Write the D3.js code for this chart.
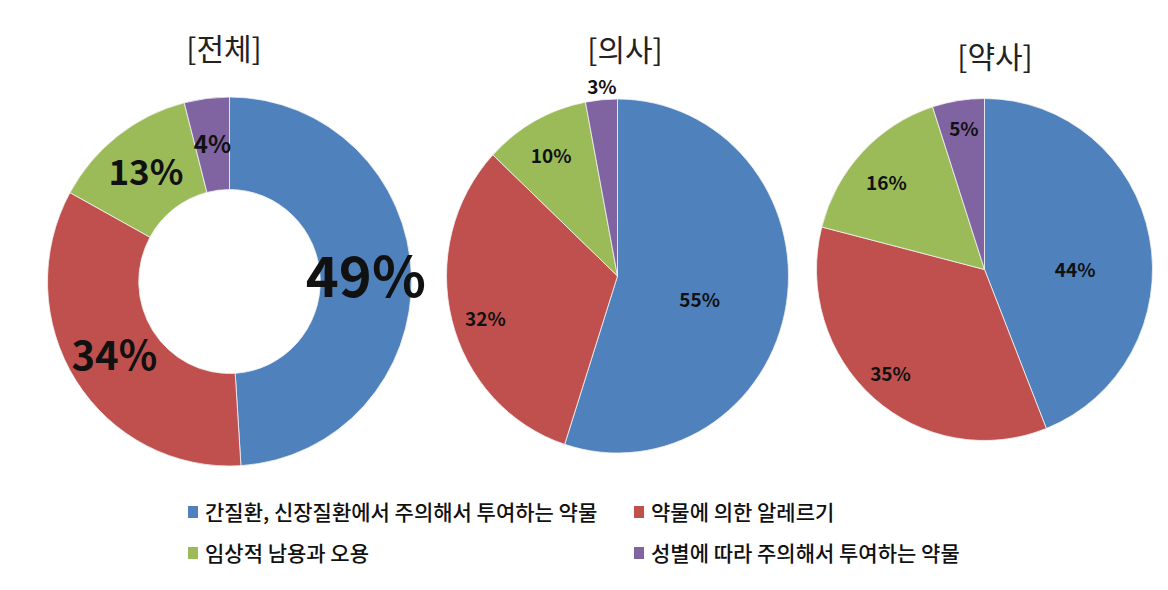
<!DOCTYPE html>
<html>
<head>
<meta charset="utf-8">
<script src="https://cdn.jsdelivr.net/npm/d3@7/dist/d3.min.js"></script>
<style>
  html, body { margin: 0; padding: 0; background: #fff; }
  svg { display: block; font-family: "Noto Sans CJK KR", "Noto Sans", sans-serif; }
</style>
</head>
<body>
<svg id="chart" width="1168" height="590"></svg>
<script>
// ---------- data ----------
const categories = [
  "간질환, 신장질환에서 주의해서 투여하는 약물",
  "약물에 의한 알레르기",
  "임상적 남용과 오용",
  "성별에 따라 주의해서 투여하는 약물"
];
const chartTitles = ["[전체]", "[의사]", "[약사]"];
const totalValues = [49, 34, 13, 4];
const doctorValues = [55, 32, 10, 3];
const pharmacistValues = [44, 35, 16, 5];
const seriesColors = ["#4F81BD", "#C0504D", "#9BBB59", "#8064A2"];

// ---------- layout ----------
const charts = [
  { values: totalValues, title: chartTitles[0], cx: 229.5, cy: 281.5, rx: 182, ry: 184.5, inner: 92,
    titleX: 224, titleY: 49,
    labelR: [null, null, null, null], labelNudge: [0, 0, 0, 0],
    labelSize: [56, 40, 35, 24] },
  { values: doctorValues, title: chartTitles[1], cx: 617.5, cy: 276, rx: 171, ry: 177, inner: 0,
    titleX: 625, titleY: 50,
    labelR: [0.5, 0.81, 0.78, 1.07], labelNudge: [7, -3, -1, 0.5],
    labelSize: [19, 19, 19, 19] },
  { values: pharmacistValues, title: chartTitles[2], cx: 984.5, cy: 269.5, rx: 168, ry: 171, inner: 0,
    titleX: 995, titleY: 57,
    labelR: [0.54, 0.83, 0.77, 0.83], labelNudge: [11, 1, -2.5, 0.5],
    labelSize: [19, 19, 19, 19] }
];

const svg = d3.select("#chart");
const color = d3.scaleOrdinal().domain(categories).range(seriesColors);
const pie = d3.pie().sort(null).value(d => d.value);

charts.forEach(c => {
  const data = c.values.map((v, i) => ({ cat: categories[i], value: v, idx: i }));
  const arcs = pie(data);
  const sx = c.rx / c.ry;
  const arc = d3.arc().innerRadius(c.inner).outerRadius(c.ry);

  const g = svg.append("g").attr("transform", `translate(${c.cx},${c.cy}) scale(${sx},1)`);
  g.selectAll("path").data(arcs).join("path")
    .attr("d", arc)
    .attr("fill", d => color(d.data.cat))
    .attr("stroke", "#f4f4f4")
    .attr("stroke-width", 0.8);

  // labels
  const lg = svg.append("g").attr("transform", `translate(${c.cx},${c.cy})`);
  arcs.forEach((d, i) => {
    let x, y;
    if (c.labelR[i] == null) {
      const p = arc.centroid(d);
      x = p[0] * sx; y = p[1];
    } else {
      const a = (d.startAngle + d.endAngle) / 2 + c.labelNudge[i] * Math.PI / 180;
      const r = c.labelR[i] * c.ry;
      x = Math.sin(a) * r * sx; y = -Math.cos(a) * r;
    }
    const fs = c.labelSize[i];
    lg.append("text")
      .attr("x", x)
      .attr("y", y + fs * 0.36)
      .attr("text-anchor", "middle")
      .attr("font-size", fs)
      .attr("font-weight", "bold")
      .attr("fill", "#111")
      .text(d.data.value + "%");
  });

  svg.append("text")
    .attr("x", c.titleX)
    .attr("y", c.titleY + 30 * 0.36)
    .attr("text-anchor", "middle")
    .attr("font-size", 30)
    .attr("fill", "#222")
    .text(c.title);
});

// legend
const legendPos = [
  { x: 188, y: 512 }, { x: 634, y: 512 },
  { x: 188, y: 553 }, { x: 634, y: 553 }
];
const legend = svg.append("g");
categories.forEach((cat, i) => {
  const p = legendPos[i];
  legend.append("rect")
    .attr("x", p.x).attr("y", p.y - 6)
    .attr("width", 10).attr("height", 12)
    .attr("fill", color(cat));
  legend.append("text")
    .attr("x", p.x + 17)
    .attr("y", p.y + 7.5)
    .attr("font-size", 21)
    .attr("font-weight", 500)
    .attr("fill", "#111")
    .text(cat);
});
</script>
</body>
</html>
